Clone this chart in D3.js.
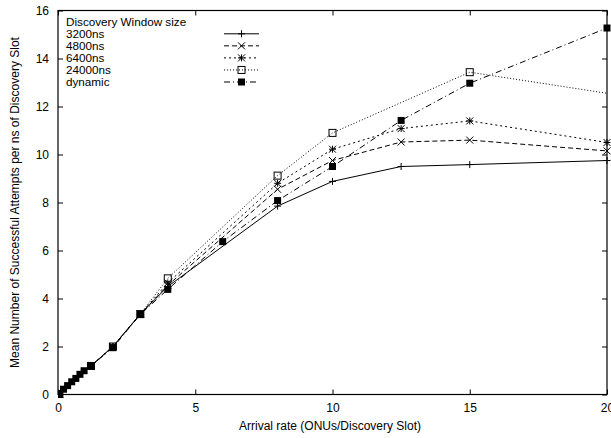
<!DOCTYPE html>
<html><head><meta charset="utf-8">
<script src="https://cdn.jsdelivr.net/npm/d3@7"></script>
<style>body{margin:0;background:#fff}svg text{font-family:"Liberation Sans",Arial,sans-serif}</style>
</head><body><svg id="c" width="611" height="438"></svg>
<script>
const xTicks = [0, 5, 10, 15, 20];
const yTicks = [0, 2, 4, 6, 8, 10, 12, 14, 16];
const seriesNames = ["3200ns", "4800ns", "6400ns", "24000ns", "dynamic"];
const x3200 = [0.05, 1.2, 2, 3, 4, 8, 10, 12.5, 15, 20];
const y3200 = [0.02, 1.19, 2.0, 3.35, 4.5, 7.85, 8.88, 9.5, 9.58, 9.75];
const x4800 = [0.05, 1.2, 2, 3, 4, 8, 10, 12.5, 15, 20];
const y4800 = [0.02, 1.19, 2.0, 3.35, 4.55, 8.55, 9.75, 10.52, 10.6, 10.15];
const x6400 = [0.05, 1.2, 2, 3, 4, 8, 10, 12.5, 15, 20];
const y6400 = [0.02, 1.19, 2.0, 3.35, 4.65, 8.8, 10.22, 11.08, 11.4, 10.5];
const x24000 = [0.05, 1.2, 2, 3, 4, 8, 10, 15, 25];
const y24000 = [0.02, 1.19, 2.0, 3.35, 4.84, 9.12, 10.9, 13.43, 11.67];
const xDyn = [0.05, 0.2, 0.35, 0.5, 0.65, 0.8, 0.95, 1.2, 2, 3, 4, 6, 8, 10, 12.5, 15, 20];
const yDyn = [0.02, 0.22, 0.37, 0.53, 0.67, 0.84, 0.99, 1.19, 1.95, 3.34, 4.38, 6.37, 8.08, 9.5, 11.42, 12.97, 15.27];

const xs = [x3200, x4800, x6400, x24000, xDyn];
const ys = [y3200, y4800, y6400, y24000, yDyn];
const dashes = [null, "5,3", "2,3", "1,2", "6,3,1,3"];
const markers = ["plus", "cross", "star", "osq", "fsq"];

const L = 58, R = 607, T = 10.5, B = 394.5;
const x = d3.scaleLinear().domain([0, 20]).range([L, R]);
const y = d3.scaleLinear().domain([0, 16]).range([B, T]);
const svg = d3.select("#c");
const FS = 12;

svg.append("defs").append("clipPath").attr("id", "clip")
  .append("rect").attr("x", L).attr("y", T - 6).attr("width", R - L + 6).attr("height", B - T + 12);

// axes
const gx = svg.append("g").attr("transform", `translate(0,${B})`)
  .call(d3.axisBottom(x).tickValues(xTicks).tickSize(-5).tickPadding(9).tickFormat(d3.format("d")));
const gxt = svg.append("g").attr("transform", `translate(0,${T})`)
  .call(d3.axisTop(x).tickValues(xTicks).tickSize(-5).tickFormat(""));
const gy = svg.append("g").attr("transform", `translate(${L},0)`)
  .call(d3.axisLeft(y).tickValues(yTicks).tickSize(-5).tickPadding(9).tickFormat(d3.format("d")));
const gyr = svg.append("g").attr("transform", `translate(${R},0)`)
  .call(d3.axisRight(y).tickValues(yTicks).tickSize(-5).tickFormat(""));
[gx, gxt, gy, gyr].forEach(g => {
  g.select(".domain").remove();
  g.selectAll("line").attr("stroke", "#000");
  g.selectAll("text").attr("font-size", FS).attr("fill", "#000");
});
svg.append("rect").attr("x", L).attr("y", T).attr("width", R - L).attr("height", B - T)
  .attr("fill", "none").attr("stroke", "#000").attr("stroke-width", 1.2);

svg.append("text").attr("x", 330).attr("y", 430).attr("text-anchor", "middle")
  .attr("font-size", FS).text("Arrival rate (ONUs/Discovery Slot)");
svg.append("text").attr("transform", `translate(19,${(T + B) / 2}) rotate(-90)`).attr("text-anchor", "middle")
  .attr("font-size", FS).text("Mean Number of Successful Attempts per ns of Discovery Slot");

function marker(g, type, cx, cy) {
  const s = 3.5;
  const ln = (x1, y1, x2, y2) => g.append("line").attr("x1", cx + x1).attr("y1", cy + y1)
    .attr("x2", cx + x2).attr("y2", cy + y2).attr("stroke", "#000").attr("stroke-width", 1);
  if (type === "plus" || type === "star") { ln(-s, 0, s, 0); ln(0, -s, 0, s); }
  if (type === "cross" || type === "star") { ln(-s, -s, s, s); ln(-s, s, s, -s); }
  if (type === "osq") g.append("rect").attr("x", cx - s).attr("y", cy - s).attr("width", 2 * s).attr("height", 2 * s)
    .attr("fill", "none").attr("stroke", "#000").attr("stroke-width", 1);
  if (type === "fsq") g.append("rect").attr("x", cx - s).attr("y", cy - s).attr("width", 2 * s).attr("height", 2 * s)
    .attr("fill", "#000");
}

const plot = svg.append("g").attr("clip-path", "url(#clip)");
const lineGen = d3.line().x(d => x(d[0])).y(d => y(d[1]));
svg.append("defs").append("clipPath").attr("id", "clipLine")
  .append("rect").attr("x", L).attr("y", T).attr("width", R - L).attr("height", B - T);

seriesNames.forEach((name, i) => {
  const pts = xs[i].map((v, j) => [v, ys[i][j]]);
  svg.append("path").datum(pts).attr("clip-path", "url(#clipLine)")
    .attr("d", lineGen).attr("fill", "none").attr("stroke", "#000").attr("stroke-width", 1)
    .attr("stroke-dasharray", dashes[i]);
  const mg = plot.append("g");
  pts.filter(p => p[0] <= 20).forEach(p => marker(mg, markers[i], x(p[0]), y(p[1])));
});

// legend
const lg = svg.append("g");
lg.append("text").attr("x", 66).attr("y", 25.5).attr("font-size", 11.7).text("Discovery Window size");
seriesNames.forEach((name, i) => {
  const yy = 33.8 + i * 12.05;
  lg.append("text").attr("x", 66).attr("y", yy + 4.2).attr("font-size", 11.7).text(name);
  lg.append("line").attr("x1", 224).attr("x2", 259).attr("y1", yy).attr("y2", yy)
    .attr("stroke", "#000").attr("stroke-width", 1).attr("stroke-dasharray", dashes[i]);
  marker(lg, markers[i], 241.5, yy);
});
</script></body></html>
